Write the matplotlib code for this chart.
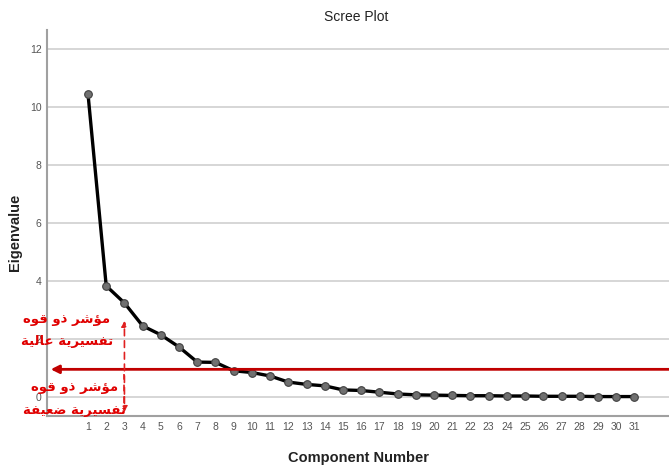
import matplotlib
matplotlib.use("Agg")
import matplotlib.pyplot as plt
import numpy as np

# eigenvalues
components = list(range(1, 32))
eigenvalues = [10.45, 3.83, 3.24, 2.45, 2.14, 1.72, 1.20, 1.19, 0.90, 0.84,
               0.72, 0.51, 0.43, 0.38, 0.24, 0.22, 0.16, 0.10, 0.07, 0.06,
               0.05, 0.04, 0.04, 0.03, 0.03, 0.02, 0.02, 0.02, 0.01, 0.01, 0.01]
y_ticks = [0, 2, 4, 6, 8, 10, 12]
cutoff = 0.95

label_high = ["مؤشر ذو قوه", "تفسيرية عالية"]
label_low = ["مؤشر ذو قوه", "تفسيرية ضعيفة"]

# arabic contextual forms: isolated, final, initial, medial (None = no joining to next)
forms = {
    "ا": ("\uFE8D", "\uFE8E", None, None),
    "ؤ": ("\uFE85", "\uFE86", None, None),
    "ة": ("\uFE93", "\uFE94", None, None),
    "ت": ("\uFE95", "\uFE96", "\uFE97", "\uFE98"),
    "ذ": ("\uFEAB", "\uFEAC", None, None),
    "ر": ("\uFEAD", "\uFEAE", None, None),
    "س": ("\uFEB1", "\uFEB2", "\uFEB3", "\uFEB4"),
    "ش": ("\uFEB5", "\uFEB6", "\uFEB7", "\uFEB8"),
    "ض": ("\uFEBD", "\uFEBE", "\uFEBF", "\uFEC0"),
    "ع": ("\uFEC9", "\uFECA", "\uFECB", "\uFECC"),
    "ف": ("\uFED1", "\uFED2", "\uFED3", "\uFED4"),
    "ق": ("\uFED5", "\uFED6", "\uFED7", "\uFED8"),
    "ل": ("\uFEDD", "\uFEDE", "\uFEDF", "\uFEE0"),
    "م": ("\uFEE1", "\uFEE2", "\uFEE3", "\uFEE4"),
    "ه": ("\uFEE9", "\uFEEA", "\uFEEB", "\uFEEC"),
    "و": ("\uFEED", "\uFEEE", None, None),
    "ي": ("\uFEF1", "\uFEF2", "\uFEF3", "\uFEF4"),
}


def shape(text):
    out = []
    for word in text.split(" "):
        letters = []
        for i, ch in enumerate(word):
            f = forms.get(ch)
            if f is None:
                letters.append(ch)
                continue
            prev = word[i - 1] if i > 0 else None
            joins_prev = prev is not None and prev in forms and forms[prev][2] is not None
            nxt = word[i + 1] if i + 1 < len(word) else None
            joins_next = nxt is not None and nxt in forms and f[2] is not None
            if joins_prev and joins_next:
                letters.append(f[3])
            elif joins_prev:
                letters.append(f[1])
            elif joins_next:
                letters.append(f[2])
            else:
                letters.append(f[0])
        out.append("".join(letters)[::-1])
    return " ".join(out[::-1])


plt.rcParams["font.family"] = ["Liberation Sans", "DejaVu Sans"]

fig = plt.figure(figsize=(6.69, 4.65), dpi=100)
ax = fig.add_axes([0.0703, 0.1054, 0.9297, 0.8301])

ax.set_xlim(-1.25, 32.9)
ax.set_ylim(-0.66, 12.66)
ax.set_yticks(y_ticks)
ax.set_xticks(components)
ax.tick_params(axis="both", length=0, labelsize=7.5, colors="#555555", pad=4)
ax.grid(axis="y", color="#d0d0d0", linewidth=1.2)
ax.set_axisbelow(True)
for s in ["top", "right"]:
    ax.spines[s].set_visible(False)
for s in ["left", "bottom"]:
    ax.spines[s].set_color("#a0a0a0")
    ax.spines[s].set_linewidth(1.5)

ax.plot(components, eigenvalues, color="black", linewidth=2.4, marker="o",
        markersize=5.5, markerfacecolor="#707070", markeredgecolor="#404040",
        markeredgewidth=0.8, zorder=3)

# cut-off line with arrow pointing at the y axis
ax.annotate("", xy=(-1.2, cutoff), xytext=(33.5, cutoff),
            arrowprops=dict(arrowstyle="-|>", color="#c00000", lw=2, mutation_scale=12),
            annotation_clip=False, zorder=4)
# dashed double arrow at component 3
ax.annotate("", xy=(3, 2.72), xytext=(3, 0.0),
            arrowprops=dict(arrowstyle="-|>", color="#e02020", lw=1.2, linestyle=(0, (4, 3)),
                            mutation_scale=8), zorder=4)
ax.annotate("", xy=(3, -0.62), xytext=(3, 0.1),
            arrowprops=dict(arrowstyle="-|>", color="#e02020", lw=1.2, linestyle=(0, (4, 3)),
                            mutation_scale=8), zorder=4)
ax.plot([3, 3], [-0.2, 0.8], color="#e02020", lw=1.2, linestyle=(0, (4, 3)), zorder=4)

for i, txt in enumerate(label_high):
    fig.text(0.1, 1 - (319 + i * 22) / 465, shape(txt), color="#e00000", fontsize=9.5,
             fontweight="bold", ha="center", va="center", family="DejaVu Sans")
for i, txt in enumerate(label_low):
    fig.text(0.111, 1 - (388 + i * 22) / 465, shape(txt), color="#e00000", fontsize=9.5,
             fontweight="bold", ha="center", va="center", family="DejaVu Sans")

fig.text(0.532, 1 - 17 / 465, "Scree Plot", fontsize=10, color="#222222",
         ha="center", va="center")
ax.set_xlabel("Component Number", fontsize=10.5, fontweight="bold", color="#222222", labelpad=14)
fig.text(15 / 669, 1 - 232 / 465, "Eigenvalue", fontsize=10.5, fontweight="bold",
         color="#222222", rotation=90, ha="center", va="center")

fig.savefig("out.png", dpi=100)
